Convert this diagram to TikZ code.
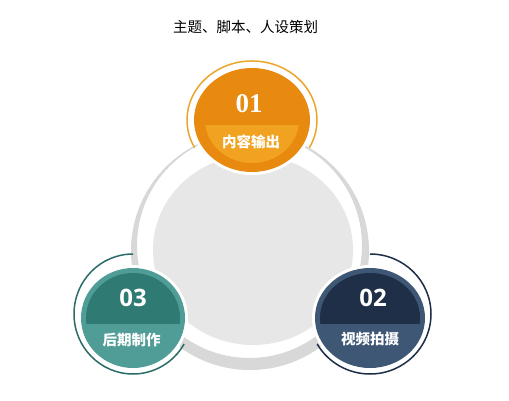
\documentclass[tikz,border=0pt]{standalone}
\usepackage{fontspec}
\newfontfamily\cjk{Noto Sans CJK SC}
\newfontfamily\numsans{Open Sans}
\newfontfamily\numserif{Liberation Serif}
\definecolor{ringgrey}{HTML}{D8D8D8}
\definecolor{diskgrey}{HTML}{E7E7E7}
\definecolor{orRim}{HTML}{E98A10}
\definecolor{orLow}{HTML}{F0A220}
\definecolor{orArc}{HTML}{EDA62C}
\definecolor{tlRim}{HTML}{509D97}
\definecolor{tlCap}{HTML}{2F7B73}
\definecolor{tlArc}{HTML}{2A6D67}
\definecolor{nvRim}{HTML}{3D5775}
\definecolor{nvCap}{HTML}{1E2F47}
\definecolor{nvArc}{HTML}{1D2E46}
\tikzset{
  numlbl/.style={text=white, font=\numsans\bfseries\fontsize{24}{24}\selectfont, inner sep=0pt},
  numserif/.style={text=white, font=\numserif\bfseries\fontsize{27}{27}\selectfont, inner sep=0pt},
  cnlbl/.style={text=white, font=\cjk\bfseries\fontsize{14.5}{14.5}\selectfont, inner sep=0pt},
  titlelbl/.style={text=black, font=\cjk\fontsize{14.5}{14.5}\selectfont, inner sep=0pt},
  thinarc/.style={line width=1.5pt}
}
\begin{document}
\begin{tikzpicture}[x=1pt,y=1pt]
\useasboundingbox[fill=white] (0,0) rectangle (509,400);
% grey ring (thicker at the bottom) and inner disk
\fill[ringgrey, even odd rule] (250,149) circle[radius=119] (249.5,154.5) circle[radius=112.5];
\fill[diskgrey] (253,150) ellipse[x radius=100, y radius=95];
% white halos
\fill[white] (252,280) ellipse[x radius=61, y radius=55];
\fill[white] (133,82) ellipse[x radius=55, y radius=53];
\fill[white] (370,82) ellipse[x radius=58, y radius=53];
% orange disc
\fill[orRim] (252,280) ellipse[x radius=58, y radius=52];
\begin{scope}
\clip (150,275) rectangle (350,200);
\fill[orLow] (252,280) ellipse[x radius=47, y radius=43];
\end{scope}
\draw[orArc, thinarc] (252,280) ++(208:65 and 59) arc[start angle=208, end angle=-28, x radius=65, y radius=59];
% teal disc
\fill[tlRim] (133,82) ellipse[x radius=52, y radius=50];
\begin{scope}
\clip (60,77) rectangle (210,150);
\fill[tlCap] (133,82) ellipse[x radius=47, y radius=45];
\end{scope}
\draw[tlArc, thinarc] (133,86) ++(90:59 and 60) arc[start angle=90, end angle=330, x radius=59, y radius=60];
% navy disc
\fill[nvRim] (370,82) ellipse[x radius=55, y radius=50];
\begin{scope}
\clip (300,77) rectangle (440,150);
\fill[nvCap] (370,82) ellipse[x radius=50, y radius=45];
\end{scope}
\draw[nvArc, thinarc] (370,86) ++(90:61 and 60) arc[start angle=90, end angle=-150, x radius=61, y radius=60];
% texts
\node[titlelbl] (title) at (245.5,373.5) {主题、脚本、人设策划};
\node[numserif] (n1) at (249,296) {01};
\node[cnlbl] (l1) at (251,258) {内容输出};
\node[numlbl] (n3) at (133,102) {03};
\node[cnlbl] (l3) at (131.5,60) {后期制作};
\node[numlbl] (n2) at (373,102) {02};
\node[cnlbl] (l2) at (370,61) {视频拍摄};
\end{tikzpicture}
\end{document}
